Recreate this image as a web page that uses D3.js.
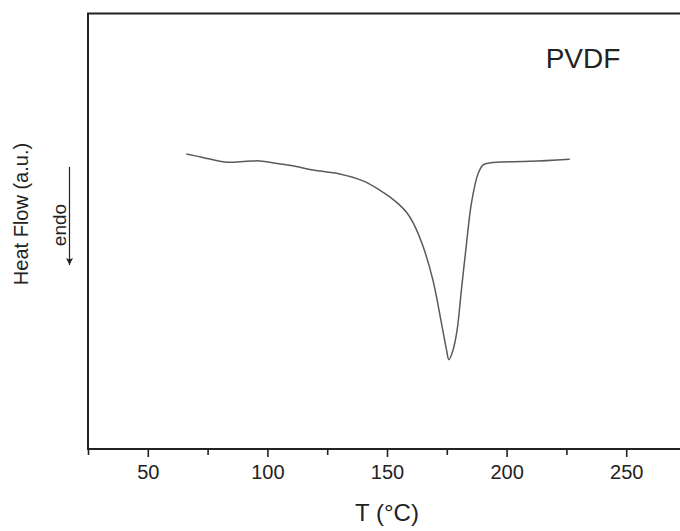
<!DOCTYPE html>
<html>
<head>
<meta charset="utf-8">
<script src="https://cdn.jsdelivr.net/npm/d3@7"></script>
<style>
  html, body { margin: 0; padding: 0; background: #fff; }
  svg { display: block; font-family: "Liberation Sans", Arial, sans-serif; }
</style>
</head>
<body>
<svg id="chart" width="680" height="531"></svg>
<script>
// Temperature (°C)
const temperature = [66.1, 73.0, 82.8, 91.2, 96.7, 100.9, 107.9, 112.1, 119.0, 130.2, 140.0, 146.9, 151.0, 155.0, 158.0, 161.0, 165.1, 169.2, 172.8, 174.9, 175.9, 177.6, 179.3, 181.1, 183.2, 185.3, 188.1, 190.2, 191.6, 195.8, 209.7, 226.4];
// Heat flow (a.u.)
const heatFlow = [6.76, 6.68, 6.57, 6.59, 6.60, 6.57, 6.51, 6.47, 6.39, 6.30, 6.14, 5.93, 5.78, 5.60, 5.43, 5.17, 4.63, 3.86, 2.86, 2.25, 2.03, 2.25, 2.71, 3.63, 4.68, 5.63, 6.31, 6.51, 6.54, 6.57, 6.59, 6.64];
const majorTicks = [50, 100, 150, 200, 250];
const minorTicks = [25, 75, 125, 175, 225, 275];
const xDomain = [25, 275];
const yDomain = [0, 10];
const sampleLabel = "PVDF";
const xTitle = "T (°C)";
const yTitle = "Heat Flow (a.u.)";
const arrowLabel = "endo";

const svg = d3.select("#chart");
const L = 88, R = 686, T = 13.5, B = 449;

const x = d3.scaleLinear().domain(xDomain).range([L, R]);
const y = d3.scaleLinear().domain(yDomain).range([448, 13]);

const defs = svg.append("defs");
defs.append("marker")
  .attr("id", "arrowhead")
  .attr("viewBox", "0 0 10 10")
  .attr("refX", 10).attr("refY", 5)
  .attr("markerWidth", 11).attr("markerHeight", 7)
  .attr("markerUnits", "userSpaceOnUse")
  .attr("orient", "auto")
  .append("path").attr("d", "M0,0 L10,5 L0,10 L2,5 Z").attr("fill", "#222");

// frame
svg.append("rect")
  .attr("x", L).attr("y", T)
  .attr("width", R - L).attr("height", B - T)
  .attr("fill", "none").attr("stroke", "#222").attr("stroke-width", 2);

// bottom axis
const gx = svg.append("g").attr("transform", `translate(0,${B})`);
gx.call(d3.axisBottom(x).tickValues(majorTicks).tickSize(8).tickPadding(8).tickFormat(d3.format("d")))
  .call(g => g.select(".domain").remove())
  .call(g => g.selectAll(".tick line").attr("stroke", "#222").attr("stroke-width", 1.6))
  .call(g => g.selectAll(".tick text").attr("fill", "#222").attr("font-size", 20)
      .attr("font-family", "'Liberation Sans', Arial, sans-serif"));
const gxm = svg.append("g").attr("transform", `translate(0,${B})`);
gxm.call(d3.axisBottom(x).tickValues(minorTicks).tickSize(6).tickFormat(""))
  .call(g => g.select(".domain").remove())
  .call(g => g.selectAll(".tick line").attr("stroke", "#222").attr("stroke-width", 1.6));

// curve
const data = temperature.map((t, i) => ({ t, v: heatFlow[i] }));
svg.append("path")
  .datum(data)
  .attr("fill", "none")
  .attr("stroke", "#5a5a5a")
  .attr("stroke-width", 1.5)
  .attr("d", d3.line().x(d => x(d.t)).y(d => y(d.v)).curve(d3.curveCatmullRom.alpha(0.5)));

// labels
svg.append("text")
  .attr("x", (L + R) / 2).attr("y", 521)
  .attr("text-anchor", "middle").attr("font-size", 24).attr("fill", "#222")
  .text(xTitle);

svg.append("text")
  .attr("transform", "translate(28,214) rotate(-90)")
  .attr("text-anchor", "middle").attr("font-size", 20).attr("fill", "#222")
  .text(yTitle);

svg.append("text")
  .attr("transform", "translate(65.5,225) rotate(-90)")
  .attr("text-anchor", "middle").attr("font-size", 19).attr("fill", "#222")
  .text(arrowLabel);

svg.append("line")
  .attr("x1", 69.5).attr("x2", 69.5)
  .attr("y1", 167).attr("y2", 265)
  .attr("stroke", "#222").attr("stroke-width", 1.2)
  .attr("marker-end", "url(#arrowhead)");

svg.append("text")
  .attr("x", 583).attr("y", 68)
  .attr("text-anchor", "middle").attr("font-size", 28).attr("fill", "#222")
  .text(sampleLabel);
</script>
</body>
</html>
